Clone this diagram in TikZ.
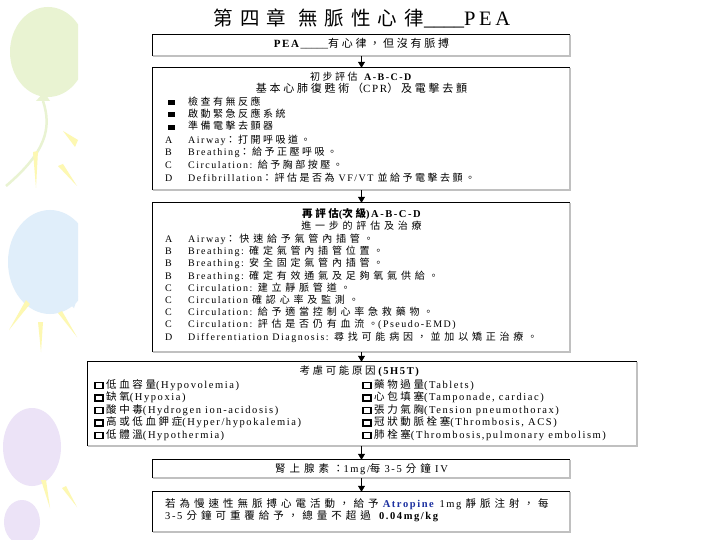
\documentclass[tikz,border=0pt]{standalone}
\usepackage{fontspec}
\setmainfont{Liberation Serif}
\newfontfamily\cjk[LetterSpace=25]{Noto Sans CJK TC}
\newfontfamily\cjkw[LetterSpace=38]{Noto Sans CJK TC}
\newfontfamily\cjkt[LetterSpace=36]{Noto Sans CJK TC}
\newfontfamily\latw[LetterSpace=15]{Liberation Serif}
\newfontfamily\latt[LetterSpace=18]{Liberation Serif}
\newcommand\zh[1]{{\cjk #1}}
\newcommand\zw[1]{{\cjkw #1}}
\usetikzlibrary{arrows.meta}
\definecolor{shade}{RGB}{192,192,192}
\definecolor{balgreen}{RGB}{233,243,210}
\definecolor{balblue}{RGB}{224,238,250}
\definecolor{balpurple}{RGB}{236,227,247}
\definecolor{raycol}{RGB}{253,248,178}
\definecolor{atroblue}{RGB}{28,48,160}
\newcommand\frameit[1]{%
  \draw[shadeline] (#1.north east) -- (#1.south east) -- (#1.south west);
  \draw[edgeline] (#1.south west) -- (#1.north west) -- (#1.north east);}
\begin{document}
\begin{tikzpicture}[x=1pt,y=-1pt,
  panel/.style={draw=none,inner sep=0pt,minimum width=417pt},
  shadeline/.style={draw=shade,line width=2.5pt},
  edgeline/.style={draw=black,line width=0.8pt},
  arr/.style={draw=black,line width=0.8pt,-{Triangle[length=6pt,width=7pt]}},
  txt/.style={inner sep=0pt,text height=7pt,text depth=2pt,font=\latw\fontsize{10}{12}\selectfont},
  rowL/.style={txt,anchor=west},
  rowC/.style={txt,anchor=center},
  big/.style={font=\latw\fontsize{10.5}{12}\selectfont},
  bul/.style={fill=black,inner sep=0pt,minimum width=7pt,minimum height=5pt},
  chk/.style={draw=black,line width=1.6pt,inner sep=0pt,minimum width=8pt,minimum height=6pt}]
\useasboundingbox (0,0) rectangle (720,540);
\fill[white] (0,0) rectangle (720,540);
% decorative balloons
\begin{scope}
\clip (0,0) rectangle (78,540);
\fill[balgreen] (48,52) ellipse [x radius=38, y radius=45];
\fill[balgreen] (36,101) -- (50,101) -- (44,92) -- cycle;
\draw[balgreen,line width=2.5pt] (43,101) .. controls (52,128) and (46,152) .. (6,186);
\fill[raycol] (63,131) -- (78,140) -- (75,147) -- cycle;
\fill[raycol] (33,152) -- (38,151) -- (36,188) -- cycle;
\fill[raycol] (58,166) -- (63,164) -- (77,186) -- cycle;
\fill[balblue] (50,262) ellipse [x radius=42, y radius=52];
\fill[balblue] (66,300) -- (78,296) -- (74,308) -- cycle;
\fill[raycol] (26,300) -- (30,304) -- (9,330) -- cycle;
\fill[raycol] (38,322) -- (43,322) -- (41,352) -- cycle;
\fill[raycol] (58,313) -- (62,311) -- (77,337) -- cycle;
\fill[balpurple] (32,447) ellipse [x radius=29, y radius=39];
\fill[balpurple] (22,522) ellipse [x radius=18, y radius=22];
\fill[raycol] (41,480) -- (46,480) -- (50,508) -- cycle;
\fill[raycol] (62,488) -- (66,486) -- (77,507) -- cycle;
\end{scope}
% title
\node[inner sep=0pt] (title) at (362,18) {\fontsize{19.5}{22}\selectfont\cjkt 第四章\hspace{12pt}無脈性心律{\rmfamily\fontsize{20}{22}\selectfont\_\_\_\_}{\latt\fontsize{20.5}{22}\selectfont PEA}};
% boxes
\node[panel,minimum height=21pt] (b1) at (361.5,45.5) {};
\node[panel,minimum height=122pt] (b2) at (361.5,129) {};
\node[panel,minimum height=149pt] (b3) at (361.5,277.5) {};
\node[panel,minimum width=549pt,minimum height=84pt] (b4) at (362.5,404) {};
\node[panel,minimum height=18pt] (b5) at (361.5,469) {};
\node[panel,minimum height=40pt] (b6) at (361.5,512) {};
\frameit{b1}\frameit{b2}\frameit{b3}\frameit{b4}\frameit{b5}\frameit{b6}
% connectors
\draw[arr] (b1.south) -- (b2.north);
\draw[arr] (b2.south) -- (b3.north);
\draw[arr] (b3.south) -- (b3.south |- b4.north);
\draw[arr] (b5.north |- b4.south) -- (b5.north);
\draw[arr] (b5.south) -- (b6.north);
% box 1
\node[rowC,font=\latw\fontsize{11}{13}\selectfont] (t1) at (361.5,45.5) {\textbf{PEA}{\rmfamily\_\_\_\_\_}\zh{有心律，但沒有脈搏}};
% box 2
\node[rowC] (t2a) at (361.5,78) {\zh{初步評估} \textbf{A-B-C-D}};
\node[rowC,font=\latw\fontsize{11}{13}\selectfont] (t2b) at (361.5,90.5) {\zh{基本心肺復甦術（}CPR\zh{）及電擊去顫}};
\node[bul] (q1) at (171,103) {};
\node[bul] (q2) at (171,115) {};
\node[bul] (q3) at (171,127.5) {};
\node[rowL] (t2c) at (188,103) {\zh{檢查有無反應}};
\node[rowL] (t2d) at (188,115) {\zh{啟動緊急反應系統}};
\node[rowL] (t2e) at (188,127.5) {\zh{準備電擊去顫器}};
\node[rowL] (l2f) at (165,141) {A};
\node[rowL] (l2g) at (165,153.5) {B};
\node[rowL] (l2h) at (165,166) {C};
\node[rowL] (l2i) at (165,179) {D};
\node[rowL] (t2f) at (188,141) {Airway\zh{：打開呼吸道。}};
\node[rowL] (t2g) at (188,153.5) {Breathing\zh{：給予正壓呼吸。}};
\node[rowL] (t2h) at (188,166) {Circulation: \zh{給予胸部按壓。}};
\node[rowL] (t2i) at (188,179) {Defibrillation\zh{：評估是否為} VF/VT \zh{並給予電擊去顫。}};
% box 3
\node[rowC,font=\latw\fontsize{10.5}{12}\selectfont] (t3a) at (361.5,215) {\bfseries\zh{再評估}(\zh{次級})A-B-C-D};
\node[rowC] (t3b) at (361.5,227) {\zw{進一步的評估及治療}};
\node[rowL] (l3c) at (165,240) {A};
\node[rowL] (l3d) at (165,252) {B};
\node[rowL] (l3e) at (165,264) {B};
\node[rowL] (l3f) at (165,277) {B};
\node[rowL] (l3g) at (165,289) {C};
\node[rowL] (l3h) at (165,301) {C};
\node[rowL] (l3i) at (165,313) {C};
\node[rowL] (l3j) at (165,325) {C};
\node[rowL] (l3k) at (165,338) {D};
\node[rowL] (t3c) at (188,240) {Airway\zw{：快速給予氣管內插管。}};
\node[rowL] (t3d) at (188,252) {Breathing: \zw{確定氣管內插管位置。}};
\node[rowL] (t3e) at (188,264) {Breathing: \zw{安全固定氣管內插管。}};
\node[rowL] (t3f) at (188,277) {Breathing: \zw{確定有效通氣及足夠氧氣供給。}};
\node[rowL] (t3g) at (188,289) {Circulation: \zw{建立靜脈管道。}};
\node[rowL] (t3h) at (188,301) {Circulation \zw{確認心率及監測。}};
\node[rowL] (t3i) at (188,313) {Circulation: \zw{給予適當控制心率急救藥物。}};
\node[rowL] (t3j) at (188,325) {Circulation: \zw{評估是否仍有血流。}(Pseudo-EMD)};
\node[rowL] (t3k) at (188,338) {Differentiation Diagnosis: \zw{尋找可能病因，並加以矯正治療。}};
% box 4
\node[rowC,big] (t4a) at (360,372) {\zh{考慮可能原因}\textbf{(5H5T)}};
\node[chk] (c1) at (99,385.5) {};
\node[chk] (c2) at (99,398) {};
\node[chk] (c3) at (99,410.5) {};
\node[chk] (c4) at (99,423) {};
\node[chk] (c5) at (99,435.5) {};
\node[chk] (c6) at (367,385.5) {};
\node[chk] (c7) at (367,398) {};
\node[chk] (c8) at (367,410.5) {};
\node[chk] (c9) at (367,423) {};
\node[chk] (c10) at (367,435.5) {};
\node[rowL,big] (t4b) at (106,385.5) {\zh{低血容量}(Hypovolemia)};
\node[rowL,big] (t4c) at (106,398) {\zh{缺氧}(Hypoxia)};
\node[rowL,big] (t4d) at (106,410.5) {\zh{酸中毒}(Hydrogen ion-acidosis)};
\node[rowL,big] (t4e) at (106,423) {\zh{高或低血鉀症}(Hyper/hypokalemia)};
\node[rowL,big] (t4f) at (106,435.5) {\zh{低體溫}(Hypothermia)};
\node[rowL,big] (t4g) at (374,385.5) {\zh{藥物過量}(Tablets)};
\node[rowL,big] (t4h) at (374,398) {\zh{心包填塞}(Tamponade, cardiac)};
\node[rowL,big] (t4i) at (374,410.5) {\zh{張力氣胸}(Tension pneumothorax)};
\node[rowL,big] (t4j) at (374,423) {\zh{冠狀動脈栓塞}(Thrombosis, ACS)};
\node[rowL,big] (t4k) at (374,435.5) {\zh{肺栓塞}(Thrombosis,pulmonary embolism)};
% box 5
\node[rowC,big] (t5) at (361.5,469.5) {\zw{腎上腺素：}1mg/\zw{每} 3-5 \zw{分鐘} IV};
% box 6
\node[rowL,big] (t6a) at (165,505) {\zw{若為慢速性無脈搏心電活動，給予} \textcolor{atroblue}{\textbf{Atropine}} 1mg \zw{靜脈注射，每}};
\node[rowL,big] (t6b) at (165,517) {3-5 \zw{分鐘可重覆給予，總量不超過} \textbf{0.04mg/kg}};
\end{tikzpicture}
\end{document}
